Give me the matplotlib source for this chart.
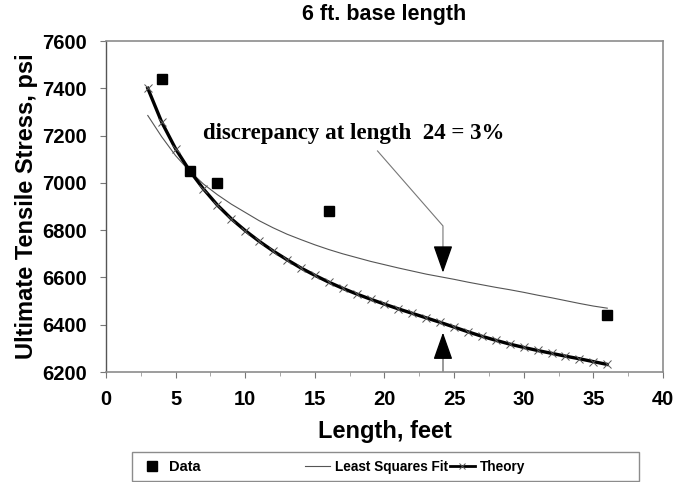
import matplotlib
matplotlib.use('Agg')
import matplotlib.pyplot as plt
from matplotlib.lines import Line2D
from matplotlib.patches import Rectangle

plt.rcParams.update({
    'font.family': ['Liberation Sans', 'DejaVu Sans'],
    'font.weight': 'bold',
    'figure.facecolor': 'white',
    'axes.facecolor': 'white',
})

# measured data
data_len = [4, 6, 8, 16, 36]
data_stress = [7440, 7050, 7000, 6880, 6440]

# curves
curve_len = [3, 4, 5, 6, 7, 8, 9, 10, 11, 12, 13, 14, 15, 16, 17, 18, 19, 20,
             21, 22, 23, 24, 25, 26, 27, 28, 29, 30, 31, 32, 33, 34, 35, 36]
lsq_stress = [7285, 7195, 7115, 7050, 6995, 6950, 6910, 6875, 6840, 6810, 6783,
              6760, 6738, 6718, 6700, 6684, 6668, 6654, 6640, 6627, 6614, 6603,
              6592, 6580, 6569, 6558, 6548, 6537, 6525, 6514, 6502, 6490, 6479, 6470]
theory_stress = [7400, 7257, 7144, 7052, 6974, 6906, 6848, 6798, 6753, 6712, 6675,
                 6640, 6609, 6580, 6554, 6530, 6508, 6487, 6467, 6448, 6429, 6410,
                 6390, 6370, 6351, 6334, 6318, 6304, 6291, 6279, 6267, 6256, 6244, 6232]

disc_len = 24.2
lsq_at_disc = 6620
theory_at_disc = 6367

x_ticks = [0, 5, 10, 15, 20, 25, 30, 35, 40]
y_ticks = [6200, 6400, 6600, 6800, 7000, 7200, 7400, 7600]

fig = plt.figure(figsize=(6.87, 4.82), dpi=100)
ax = fig.add_axes([0.1543, 0.2282, 0.8107, 0.6867])

ax.plot(curve_len, lsq_stress, color='#555555', linewidth=0.8)
ax.plot(curve_len, theory_stress, color='black', linewidth=2.4,
        marker='x', markersize=6, markeredgewidth=0.7, markeredgecolor='#555555')
ax.plot(data_len, data_stress, linestyle='none', marker='s', markersize=7,
        color='black')

# annotation leader + arrows
ax.plot([19.5, disc_len, disc_len], [7135, 6818, 6730], color='#777777', linewidth=0.8)
ax.annotate('', xy=(disc_len, lsq_at_disc), xytext=(disc_len, 6722),
            arrowprops=dict(arrowstyle='-|>,head_length=1.7,head_width=0.6',
                            color='black', shrinkA=0, shrinkB=0, mutation_scale=10))
ax.plot([disc_len, disc_len], [6200, 6290], color='#888888', linewidth=1.2)
ax.annotate('', xy=(disc_len, theory_at_disc), xytext=(disc_len, 6284),
            arrowprops=dict(arrowstyle='-|>,head_length=1.7,head_width=0.6',
                            color='black', shrinkA=0, shrinkB=0, mutation_scale=10))
ax.text(6.96, 7210, 'discrepancy at length  24 = 3%', fontsize=16.5,
        family=['Liberation Serif', 'DejaVu Serif'], fontweight='bold',
        va='center', ha='left')

ax.set_xlim(0, 40)
ax.set_ylim(6200, 7600)
ax.set_xticks(x_ticks)
ax.set_yticks(y_ticks)
ax.set_xticks([2.5, 7.5, 12.5, 17.5, 22.5, 27.5, 32.5, 37.5], minor=True)
ax.tick_params(axis='both', which='major', labelsize=14.5, length=4, color='#777777')
ax.tick_params(axis='x', which='major', pad=9)
ax.tick_params(axis='y', which='major', pad=10)
ax.tick_params(axis='x', which='minor', length=3, color='#999999')
for lab in ax.get_xticklabels() + ax.get_yticklabels():
    lab.set_fontweight('bold')

for side in ['top', 'right', 'bottom']:
    ax.spines[side].set_color('#8c8c8c')
    ax.spines[side].set_linewidth(1.2)
ax.spines['left'].set_color('#555555')
ax.spines['left'].set_linewidth(1.0)

ax.set_xlabel('Length, feet', fontsize=17, fontweight='bold', labelpad=8)
ax.set_ylabel('Ultimate Tensile Stress, psi', fontsize=17, fontweight='bold', labelpad=3)
ax.set_title('6 ft. base length', fontsize=15.5, fontweight='bold', pad=15)

# legend split in two parts inside one frame, like the original
h_data = Line2D([], [], linestyle='none', marker='s', markersize=7, color='black')
h_lsq = Line2D([], [], color='#555555', linewidth=0.8)
h_th = Line2D([], [], color='black', linewidth=2.0, marker='x', markersize=5,
              markeredgewidth=0.7, markeredgecolor='#555555')
leg1 = fig.legend([h_data], ['Data'], loc='center left', frameon=False,
                  bbox_to_anchor=(0.208, 0.031), fontsize=10.5, handlelength=1.2,
                  handletextpad=0.6, borderpad=0, borderaxespad=0)
leg2 = fig.legend([h_lsq, h_th], ['Least Squares Fit', 'Theory'], loc='center left',
                  frameon=False, ncol=2, bbox_to_anchor=(0.444, 0.031), fontsize=9.8,
                  handlelength=1.8, handletextpad=0.4, columnspacing=0.15,
                  borderpad=0, borderaxespad=0)
for t in leg1.get_texts() + leg2.get_texts():
    t.set_fontweight('bold')
fig.patches.append(Rectangle((132 / 687, 0.002), 507 / 687, 29 / 482,
                             transform=fig.transFigure, fill=False,
                             edgecolor='#8c8c8c', linewidth=1.0))

fig.savefig('out.png', dpi=100)
